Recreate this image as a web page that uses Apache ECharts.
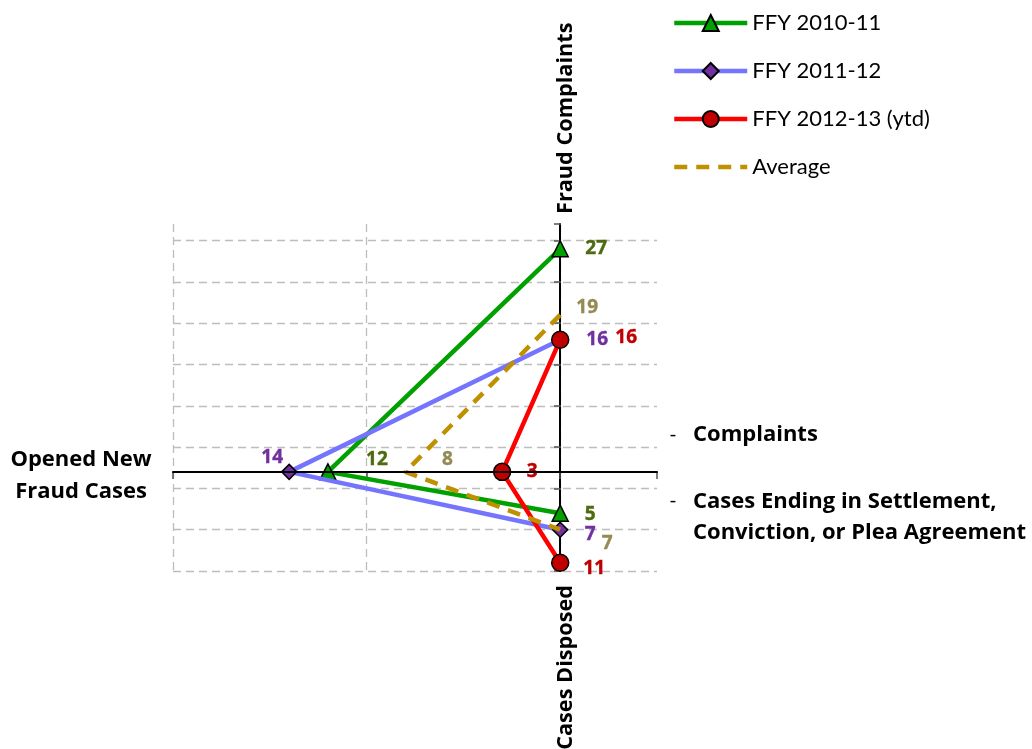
<!DOCTYPE html>
<html>
<head>
<meta charset="utf-8">
<title>Fraud Complaints, Opened Cases and Cases Disposed</title>
<script src="https://cdn.jsdelivr.net/npm/echarts@6/dist/echarts.min.js"></script>
<style>
  html, body { margin: 0; padding: 0; background: #ffffff; }
  #chart { width: 1032px; height: 749px; }
</style>
</head>
<body>
<div id="chart"></div>
<script>
// Fiscal years shown, plus the three-year average
const seriesNames = ['FFY 2010-11', 'FFY 2011-12', 'FFY 2012-13 (ytd)', 'Average'];
// Fraud complaints received (drawn upward on the vertical axis)
const complaints = [27, 16, 16, 19];
// Opened new fraud cases (drawn leftward on the horizontal axis)
const openedCases = [12, 14, 3, 8];
// Cases disposed (drawn downward on the vertical axis)
const casesDisposed = [5, 7, 11, 7];

const lineColors = ['#00a000', '#7474ff', '#ff0000', '#bf9000'];
const markerFill = ['#00a000', '#7030a0', '#c00000', 'transparent'];
const labelColors = ['#4f6a10', '#7030a0', '#c00000', '#948a54'];
const symbols = ['triangle', 'diamond', 'circle', 'circle'];
const symbolSizes = [16, 15, 17, 0.1];
// label offsets per series: [top point, middle point, bottom point]
const labelOffsets = [
  [[36, 0], [49, -12], [30, 1]],
  [[37, 0], [-17, -14], [30, 5]],
  [[66, -2], [30, 0], [34, 6]],
  [[27, -7], [42, -12], [47, 14]]
];

const FONT = 'Lato, "Open Sans", "Liberation Sans", sans-serif';
const BOLD = '"Open Sans", Lato, "Liberation Sans", sans-serif';

const series = seriesNames.map(function (name, i) {
  const pts = [
    [0, complaints[i]],
    [-openedCases[i], 0],
    [0, -casesDisposed[i]]
  ];
  return {
    name: name,
    type: 'line',
    xAxisIndex: 0,
    yAxisIndex: 0,
    z: 2 + i,
    symbol: symbols[i],
    symbolSize: symbolSizes[i],
    showAllSymbol: true,
    lineStyle: {
      color: lineColors[i],
      width: 4.5,
      type: i === 3 ? [13, 9] : 'solid',
      cap: 'butt'
    },
    itemStyle: {
      color: markerFill[i],
      borderColor: i === 3 ? 'transparent' : '#000000',
      borderWidth: i === 3 ? 0 : 1.5
    },
    emphasis: { disabled: true },
    animation: false,
    data: pts.map(function (p, k) {
      return {
        value: p,
        label: {
          show: true,
          position: 'inside',
          offset: labelOffsets[i][k],
          formatter: function (prm) {
            const v = prm.value[0] !== 0 ? prm.value[0] : prm.value[1];
            return String(Math.abs(v));
          },
          color: labelColors[i],
          fontFamily: BOLD,
          fontWeight: 'bold',
          fontSize: 19,
          textBorderColor: labelColors[i],
          textBorderWidth: 0.4
        }
      };
    })
  };
});

const gridLine = { show: true, showMaxLine: false, lineStyle: { color: '#bdbdbd', width: 1.3, type: [8, 5] } };

const option = {
  backgroundColor: '#ffffff',
  animation: false,
  grid: { left: 173, right: 375, top: 224, bottom: 178, containLabel: false },
  legend: {
    orient: 'vertical',
    left: 667,
    top: 7,
    itemWidth: 73,
    itemHeight: 20,
    itemGap: 26,
    data: seriesNames,
    lineStyle: { width: 4.5 },
    textStyle: { fontFamily: FONT, fontSize: 22, color: '#000000' },
    selectedMode: false
  },
  xAxis: [
    {
      // the black horizontal axis, crossing at zero
      type: 'value', min: -20, max: 5, z: 10,
      axisLine: { show: true, onZero: true, onZeroAxisIndex: 0, lineStyle: { color: '#000000', width: 2 } },
      axisTick: { show: false }, axisLabel: { show: false }, splitLine: { show: false }
    },
    {
      // vertical dashed gridlines
      type: 'value', min: -20, max: 5, interval: 10, position: 'bottom', offset: -99,
      axisLine: { show: false },
      axisTick: { show: true, length: 7, lineStyle: { color: '#555555', width: 1.5 } },
      axisLabel: { show: false },
      splitLine: gridLine
    }
  ],
  yAxis: [
    {
      // the black vertical axis, crossing at zero
      type: 'value', min: -12, max: 30, z: 0,
      axisLine: { show: true, onZero: true, onZeroAxisIndex: 0, lineStyle: { color: '#000000', width: 2 } },
      axisTick: { show: false }, axisLabel: { show: false }, splitLine: { show: false }
    },
    {
      // horizontal dashed gridlines every 5 counts starting at the bottom edge
      type: 'value', min: 0, max: 42, interval: 5, position: 'left', offset: -388,
      axisLine: { show: false },
      axisTick: { show: true, length: 7, lineStyle: { color: '#555555', width: 1.5 } },
      axisLabel: { show: false },
      splitLine: gridLine
    }
  ],
  series: series,
  graphic: [
    {
      type: 'text', x: 566, y: 214, rotation: Math.PI / 2,
      style: { text: 'Fraud Complaints', fill: '#000000', fontFamily: BOLD, fontWeight: 'bold', fontSize: 21.7, align: 'left', verticalAlign: 'middle' }
    },
    {
      type: 'text', x: 566, y: 585, rotation: Math.PI / 2,
      style: { text: 'Cases Disposed', fill: '#000000', fontFamily: BOLD, fontWeight: 'bold', fontSize: 21.7, align: 'right', verticalAlign: 'middle' }
    },
    {
      type: 'text', x: 81, y: 476,
      style: { text: 'Opened New\nFraud Cases', fill: '#000000', fontFamily: BOLD, fontWeight: 'bold', fontSize: 22, lineHeight: 32, align: 'center', verticalAlign: 'middle' }
    },
    {
      type: 'text', x: 673, y: 435,
      style: { text: '-', fill: '#000000', fontFamily: FONT, fontSize: 20, align: 'center', verticalAlign: 'middle' }
    },
    {
      type: 'text', x: 693, y: 435,
      style: { text: 'Complaints', fill: '#000000', fontFamily: BOLD, fontWeight: 'bold', fontSize: 22, align: 'left', verticalAlign: 'middle' }
    },
    {
      type: 'text', x: 673, y: 501,
      style: { text: '-', fill: '#000000', fontFamily: FONT, fontSize: 20, align: 'center', verticalAlign: 'middle' }
    },
    {
      type: 'text', x: 693, y: 517,
      style: { text: 'Cases Ending in Settlement,\nConviction, or Plea Agreement', fill: '#000000', fontFamily: BOLD, fontWeight: 'bold', fontSize: 22, lineHeight: 31, align: 'left', verticalAlign: 'middle' }
    }
  ]
};

const chart = echarts.init(document.getElementById('chart'), null, { renderer: 'canvas' });
chart.setOption(option);
</script>
</body>
</html>
